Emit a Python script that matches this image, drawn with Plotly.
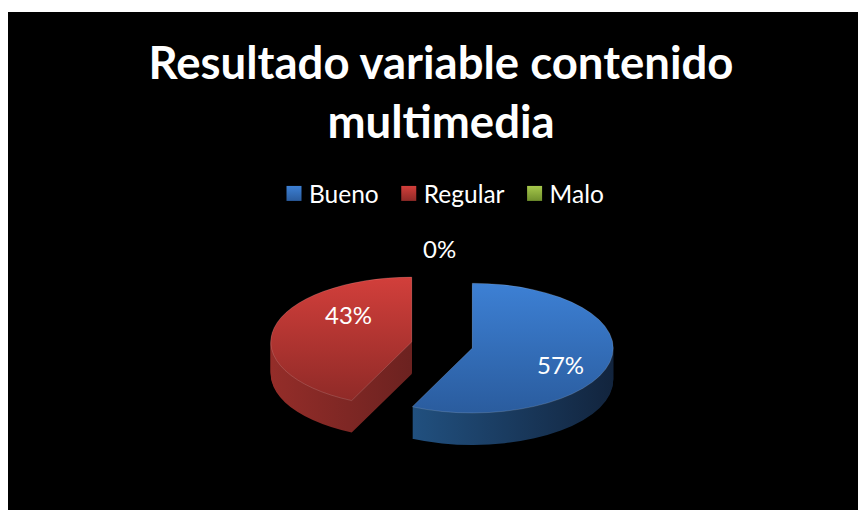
import plotly.graph_objects as go

title_lines = ["Resultado variable contenido", "multimedia"]
categories = ["Bueno", "Regular", "Malo"]
values = [57, 43, 0]
pie_colors = ["#3570b8", "#b8322f", "#8fb13c"]
wall_colors = ["#1b3d68", "#7c2623", "#5f7a24"]
pull = [0.22, 0.22, 0.22]

DEPTH = 32
dom_x = [0.3082, 0.7130]
dom_y = [0.1546, 0.8454]

fig = go.Figure()
common = dict(labels=categories, values=values, sort=False, direction="clockwise", rotation=0,
              pull=pull, domain=dict(x=dom_x, y=dom_y), textinfo="none", hoverinfo="skip")
for _ in range(DEPTH):
    fig.add_trace(go.Pie(marker=dict(colors=wall_colors, line=dict(width=0)), showlegend=False, **common))
fig.add_trace(go.Pie(marker=dict(colors=pie_colors, line=dict(width=0)), showlegend=True, **common))

label_pos = [(560, 364), (348, 314), (439, 248)]
annotations = [
    dict(text=f"{v}%", x=(p[0] - 8) / 850, y=1 - (p[1] - 12) / 498, xref="paper", yref="paper",
         showarrow=False, font=dict(family="Lato", size=24, color="white"), xanchor="center", yanchor="middle")
    for v, p in zip(values, label_pos)
]

fig.update_layout(
    width=858, height=510,
    paper_bgcolor="white",
    margin=dict(l=8, r=0, t=12, b=0, autoexpand=False),
    shapes=[dict(type="rect", xref="paper", yref="paper", x0=0, x1=1, y0=0, y1=1,
                 fillcolor="black", line=dict(width=0), layer="below")],
    title=dict(text="<br>".join(title_lines), x=441 / 858, xanchor="center", xref="container",
               y=1 - 79 / 510, yanchor="top", yref="container",
               font=dict(family="Lato", size=45.5, color="white", weight="bold")),
    legend=dict(orientation="h", x=(269 - 8) / 850, xanchor="left", y=1 - (171 - 12) / 498, yanchor="top",
                font=dict(family="Lato", size=24.5, color="white"), bgcolor="rgba(0,0,0,0)",
                traceorder="normal", itemclick=False, itemdoubleclick=False),
    annotations=annotations,
)

post = """
document.body.style.margin = '0';
var gd = document.getElementById('{plot_id}');
var s = gd._fullLayout._size;
var c = s.t + s.h * (1 - %f);
var K = 0.46, TARGET = 345;
var NS = 'http://www.w3.org/2000/svg';
var svg = gd.querySelector('svg.main-svg');
var defs = svg.querySelector('defs') || svg.insertBefore(document.createElementNS(NS,'defs'), svg.firstChild);
function grad(id, vertical, a, b) {
  var g = document.createElementNS(NS,'linearGradient');
  g.setAttribute('id', id); g.setAttribute('x1','0'); g.setAttribute('y1','0');
  g.setAttribute('x2', vertical ? '0' : '1'); g.setAttribute('y2', vertical ? '1' : '0');
  [[0,a],[1,b]].forEach(function(st){
    var e = document.createElementNS(NS,'stop');
    e.setAttribute('offset', st[0]); e.setAttribute('stop-color', st[1]); g.appendChild(e);
  });
  defs.appendChild(g);
}
grad('top0', true, '#3d80d4', '#2a5c9e');
grad('top1', true, '#d23f3b', '#8f2a27');
grad('top2', true, '#a6c84c', '#70902c');
grad('wall0', false, '#21507f', '#12243d');
grad('wall1', false, '#942d29', '#6c2220');
grad('wall2', false, '#6f8c2c', '#4f6620');
var traces = gd.querySelectorAll('.pielayer .trace');
traces.forEach(function(t, i) {
  var isTop = i === traces.length - 1;
  var d = traces.length - 1 - i;
  t.setAttribute('transform', 'translate(0,' + (TARGET + d) + ') scale(1,' + K + ') translate(0,' + (-c) + ')');
  t.querySelectorAll('g.slice').forEach(function(sl, j) {
    var p = sl.querySelector('path.surface');
    if (!p) return;
    if (j === 2) { p.style.display = 'none'; return; }
    p.style.fill = 'url(#' + (isTop ? 'top' : 'wall') + j + ')';
    if (isTop) {
      p.style.stroke = 'rgba(255,255,255,0.14)';
      p.style.strokeWidth = '1px';
      p.setAttribute('vector-effect', 'non-scaling-stroke');
    }
  });
});
gd.querySelectorAll('.legend .legendpie').forEach(function(p, j) {
  var tr = p.getAttribute('transform') || '';
  p.setAttribute('transform', tr + ' translate(5,0) scale(1.25)');
  p.style.fill = 'url(#top' + j + ')';
});
""" % ((dom_y[0] + dom_y[1]) / 2)

fig.write_html("out.html", post_script=post, config=dict(displayModeBar=False))
